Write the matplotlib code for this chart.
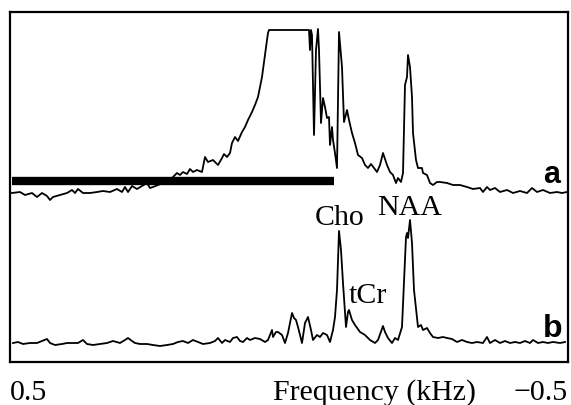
import numpy as np
import matplotlib
matplotlib.use("Agg")
import matplotlib.pyplot as plt

# spectrum sampled on 558 bins spanning +0.5 .. -0.5 kHz
n_bins = 558
f_left = 0.5
f_right = -0.5

# trace a: unsuppressed (water) spectrum
bins_a = [2, 10, 15, 22, 27, 32, 37, 40, 43, 50, 57, 62, 65, 68, 73, 80, 87, 93,
          100, 107, 112, 115, 118, 122, 127, 132, 137, 140, 143, 148, 153, 158,
          162, 167, 170, 173, 177, 180, 183, 187, 192, 195, 198, 203, 208, 212,
          214, 217, 220, 222, 225, 228, 232, 235, 238, 242, 245, 248, 252, 254,
          257, 258, 259, 299, 300, 301, 302, 304, 306, 308, 309, 311, 313, 315,
          317, 319, 320, 322, 323, 325, 327, 328, 329, 332, 334, 337, 339, 342,
          345, 348, 352, 355, 358, 361, 364, 367, 370, 373, 377, 380, 383, 386,
          388, 391, 393, 395, 397, 398, 400, 402, 403, 406, 408, 412, 413, 417,
          420, 423, 427, 430, 437, 443, 450, 457, 463, 470, 473, 477, 480, 485,
          490, 497, 503, 510, 517, 522, 527, 533, 540, 547, 552, 557]
amp_a = [-1, 0, -3, -1, -5, -1, -4, -8, -5, -3, -1, 2, -1, 3, -1, -1, 0, 1,
         0, 3, 0, 5, 0, 6, 3, 6, 9, 4, 5, 7, 9, 11,
         14, 19, 17, 20, 18, 23, 20, 22, 20, 35, 30, 32, 27, 34,
         38, 35, 39, 49, 55, 51, 60, 65, 72, 80, 87, 95, 115, 130,
         152, 159, 162, 162, 142, 162, 157, 57, 142, 163, 142, 69, 94, 85,
         74, 75, 47, 65, 52, 39, 24, 92, 160, 125, 70, 82, 72, 59,
         49, 37, 34, 27, 24, 28, 24, 20, 27, 39, 27, 20, 17, 9,
         14, 10, 19, 107, 115, 137, 125, 95, 59, 32, 24, 24, 19, 17,
         9, 7, 10, 10, 9, 7, 7, 5, 3, 4, 0, 5, 2, 4,
         0, 2, -1, 1, -1, 4, 0, 2, -1, 0, -1, 0]

# trace b: water-suppressed spectrum
bins_b = [3, 8, 13, 20, 27, 32, 37, 40, 45, 52, 57, 63, 68, 73, 77, 83, 90, 97,
          103, 110, 115, 118, 122, 125, 130, 137, 143, 150, 157, 163, 168, 173,
          178, 183, 188, 193, 200, 205, 208, 212, 215, 220, 223, 227, 230, 233,
          237, 240, 245, 250, 255, 258, 262, 263, 266, 268, 272, 275, 278, 282,
          284, 286, 288, 292, 295, 298, 301, 303, 307, 310, 313, 317, 320, 323,
          325, 327, 329, 331, 333, 336, 338, 339, 342, 345, 350, 355, 360, 365,
          368, 373, 375, 378, 382, 385, 388, 392, 394, 396, 397, 398, 400, 402,
          404, 407, 408, 411, 413, 417, 420, 423, 428, 433, 437, 442, 447, 452,
          457, 462, 467, 473, 477, 480, 485, 490, 495, 500, 505, 510, 515, 520,
          523, 528, 533, 538, 543, 550, 555]
amp_b = [2, 3, 1, 2, 2, 4, 6, 2, 0, 1, 2, 2, 2, 5, 1, 0, 1, 2,
         4, 2, 5, 7, 4, 2, 1, 1, 0, -1, 0, 1, 3, 4,
         2, 5, 3, 1, 2, 4, 7, 2, 5, 3, 7, 8, 4, 3,
         7, 5, 7, 6, 3, 5, 15, 8, 13, 13, 10, 2, 12, 32,
         27, 25, 18, 2, 22, 28, 15, 5, 10, 8, 12, 10, 3, 15,
         28, 55, 114, 95, 62, 18, 33, 35, 25, 20, 13, 10, 5, 2,
         5, 19, 13, 7, 2, 7, 5, 18, 62, 108, 112, 107, 125, 102,
         55, 28, 18, 20, 15, 17, 12, 8, 7, 8, 7, 6, 3, 5,
         3, 2, 3, 2, 8, 2, 5, 2, 4, 2, 3, 2, 4, 2,
         5, 2, 3, 2, 3, 2, 3]

offset_a = 170
offset_b = 17

# suppression band marker
band_bins = [2, 324]
band_level = 181

freq_a = f_left - np.array(bins_a) / n_bins * (f_left - f_right)
freq_b = f_left - np.array(bins_b) / n_bins * (f_left - f_right)
freq_band = f_left - np.array(band_bins) / n_bins * (f_left - f_right)

def freq(b):
    return f_left - b / n_bins * (f_left - f_right)

fig = plt.figure(figsize=(5.71, 4.05), dpi=100)
ax = fig.add_axes([10 / 571, 43 / 405, 558 / 571, 350 / 405])

ax.plot(freq_a, np.array(amp_a) + offset_a, color="black", lw=1.3)
ax.plot(freq_b, np.array(amp_b) + offset_b, color="black", lw=1.3)
ax.plot(freq_band, [band_level, band_level], color="black", lw=6.0,
        solid_capstyle="butt")

ax.set_xlim(f_left, f_right)
ax.set_ylim(0, 350)
ax.set_xticks([])
ax.set_yticks([])
for s in ax.spines.values():
    s.set_linewidth(1.6)

serif = "Liberation Serif"
ax.text(freq(330), 137, "Cho", family=serif, fontsize=21.5, ha="center", va="baseline")
ax.text(freq(400), 147, "NAA", family=serif, fontsize=21.5, ha="center", va="baseline")
ax.text(freq(358), 59, "tCr", family=serif, fontsize=21.5, ha="center", va="baseline")

ax.text(freq(542), 179, "a", family="Liberation Sans", weight="bold",
        fontsize=22, ha="center", va="baseline")
ax.text(freq(543), 25, "b", family="Liberation Sans", weight="bold",
        fontsize=23, ha="center", va="baseline")

# bottom labels
ax.text(f_left, -0.109, "0.5", transform=ax.get_xaxis_transform(),
        family=serif, fontsize=21.5, ha="left", va="baseline")
ax.text(0.4713, -0.109, "Frequency (kHz)", transform=ax.transAxes,
        family=serif, fontsize=21.5, ha="left", va="baseline")
ax.text(f_right, -0.109, "\u22120.5", transform=ax.get_xaxis_transform(),
        family=serif, fontsize=21.5, ha="right", va="baseline")

fig.savefig("out.png", dpi=100)
